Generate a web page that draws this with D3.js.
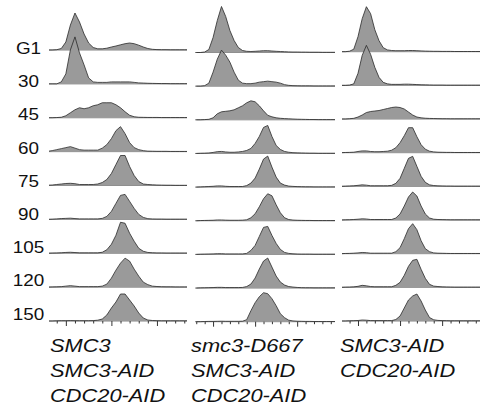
<!DOCTYPE html>
<html>
<head>
<meta charset="utf-8">
<script src="https://cdn.jsdelivr.net/npm/d3@7"></script>
<style>
    body { margin: 0; background: #fff; }
    text { font-family: 'Liberation Sans', Arial, sans-serif; fill: #111; }
</style>
</head>
<body>
<div class="panels"></div>
<script>
var width = 482
var height = 411

// time after release (min)
var timePoints = ['G1', '30', '45', '60', '75', '90', '105', '120', '150']

// DNA content bins (1C units)
var dnaContent = [0.6, 0.7, 0.8, 0.9, 1.0, 1.1, 1.2, 1.3, 1.4, 1.5, 1.6, 1.7, 1.8, 1.9, 2.0, 2.1, 2.2,
    2.3, 2.4, 2.5, 2.6, 2.7, 2.8, 2.9, 3.0, 3.1, 3.2, 3.3, 3.4, 3.5, 3.6, 3.7, 3.8, 3.9]

var majorTicks = [1, 2, 3]
var minorTicks = [0.6, 0.8, 1.2, 1.4, 1.6, 1.8, 2.2, 2.4, 2.6, 2.8, 3.2, 3.4, 3.6, 3.8]

var smc3Labels = ['SMC3', 'SMC3-AID', 'CDC20-AID']
var d667Labels = ['smc3-D667', 'SMC3-AID', 'CDC20-AID']
var aidLabels = ['SMC3-AID', 'CDC20-AID']

// cell counts per bin, one row per time point
var smc3Counts = [
    [0, 0, 0.3, 1.5, 8, 25, 37, 28, 16, 7, 2.5, 1.2, 1.2, 1.8, 3, 4, 5.2, 6.3, 7, 6.3, 4.8, 3, 1.5, 0.7, 0.4, 0.3, 0.3, 0.2, 0.2, 0.2, 0.2, 0.2, 0.2, 0.2],
    [0, 0, 0, 2, 10, 34, 47, 31, 19, 6, 2, 1.5, 1.5, 1.5, 2, 2, 2, 2, 2, 1.5, 1, 0.8, 0.6, 0.5, 0.4, 0.3, 0.3, 0.2, 0.2, 0.2, 0.2, 0.2, 0.2, 0.2],
    [0, 0, 0.2, 0.5, 2, 5, 8, 10, 9, 10, 12, 13, 15, 15, 15, 13, 10, 6, 2.5, 1, 0.5, 0.4, 0.3, 0.3, 0.3, 0.2, 0.2, 0.2, 0.2, 0.2, 0.2, 0.2, 0.2, 0.2],
    [0.3, 1, 2, 3, 4, 5, 3.5, 2, 1.5, 1.5, 1.5, 1.5, 3.5, 7, 13, 21, 25, 18, 9, 4, 2, 1, 0.5, 0.4, 0.3, 0.3, 0.3, 0.2, 0.2, 0.2, 0.2, 0.2, 0.2, 0.2],
    [0.3, 0.5, 1, 1.5, 2, 2.2, 1.8, 1, 1, 1, 1, 1.5, 3, 6, 12, 21, 30, 30, 19, 10, 4, 1.5, 1, 0.7, 0.5, 0.4, 0.3, 0.3, 0.2, 0.2, 0.2, 0.2, 0.2, 0.2],
    [0, 0.2, 0.5, 0.8, 1, 1.2, 0.8, 0.5, 0.5, 0.5, 0.5, 0.5, 1, 3, 8, 16, 24, 25, 18, 11, 5, 2, 0.7, 0.4, 0.3, 0.3, 0.2, 0.2, 0.2, 0.2, 0.2, 0.2, 0.2, 0.2],
    [0, 0.2, 0.3, 0.5, 0.8, 1, 0.7, 0.4, 0.4, 0.4, 0.4, 0.4, 1, 3.5, 9, 18, 31, 30, 20, 12, 5, 2, 0.8, 0.5, 0.3, 0.3, 0.2, 0.2, 0.2, 0.2, 0.2, 0.2, 0.2, 0.2],
    [0, 0.2, 0.3, 0.5, 1, 1.5, 1, 0.5, 0.5, 0.5, 0.5, 0.5, 1, 3, 9, 17, 24, 29, 26, 18, 11, 5, 2.5, 1, 0.6, 0.4, 0.3, 0.3, 0.2, 0.2, 0.2, 0.2, 0.2, 0.2],
    [0, 0, 0.2, 0.3, 0.3, 0.4, 0.3, 0.3, 0.3, 0.3, 0.4, 0.8, 2, 6, 13, 19, 27, 27, 21, 15, 8, 3, 1, 0.5, 0.3, 0.2, 0.2, 0.2, 0.2, 0.2, 0.2, 0.2, 0.2, 0.2]
]

var d667Counts = [
    [0, 0, 0.5, 3, 15, 32, 46, 36, 22, 12, 5, 2, 1.2, 1, 1.2, 1.5, 1.8, 1.8, 1.5, 1.2, 1, 0.8, 0.6, 0.5, 0.5, 0.4, 0.4, 0.3, 0.3, 0.3, 0.2, 0.2, 0.2, 0.2],
    [0, 0, 0.5, 3, 14, 27, 36, 31, 24, 14, 6, 3, 2.5, 2.5, 3, 4, 4.5, 5, 4.5, 4, 3, 1.5, 0.8, 0.5, 0.4, 0.3, 0.3, 0.3, 0.2, 0.2, 0.2, 0.2, 0.2, 0.2],
    [0, 0, 0.2, 0.5, 2, 6, 8, 8.5, 9, 10, 12, 14, 17, 19, 18, 14, 9, 4.5, 3, 2, 1.5, 1.2, 1, 0.8, 0.6, 0.5, 0.4, 0.3, 0.3, 0.2, 0.2, 0.2, 0.2, 0.2],
    [0, 0.2, 0.3, 0.5, 1, 1.8, 2, 1.5, 1.2, 1.2, 1.5, 2, 3, 5, 10, 17, 26, 28, 17, 8, 4, 2, 1.2, 0.8, 0.6, 0.5, 0.4, 0.3, 0.3, 0.2, 0.2, 0.2, 0.2, 0.2],
    [0, 0.2, 0.4, 0.6, 0.8, 1.2, 1.2, 0.8, 0.6, 0.6, 0.6, 0.6, 1.5, 4, 9, 18, 28, 31, 20, 10, 4, 2, 1, 0.7, 0.5, 0.4, 0.3, 0.3, 0.2, 0.2, 0.2, 0.2, 0.2, 0.2],
    [0, 0.2, 0.3, 0.4, 0.5, 0.8, 0.8, 0.6, 0.5, 0.5, 0.5, 0.6, 1, 3, 7, 14, 22, 27, 25, 16, 8, 3, 1.2, 0.7, 0.5, 0.4, 0.3, 0.3, 0.2, 0.2, 0.2, 0.2, 0.2, 0.2],
    [0, 0.2, 0.3, 0.4, 0.5, 0.7, 0.7, 0.5, 0.5, 0.5, 0.5, 0.5, 1, 4, 9, 18, 27, 28, 19, 11, 5, 2, 1, 0.6, 0.4, 0.3, 0.3, 0.3, 0.2, 0.2, 0.2, 0.2, 0.2, 0.2],
    [0, 0.2, 0.3, 0.4, 0.5, 0.7, 0.7, 0.5, 0.5, 0.5, 0.5, 0.6, 1.5, 4, 10, 19, 27, 30, 21, 12, 6, 3, 1.5, 1, 0.6, 0.4, 0.3, 0.3, 0.2, 0.2, 0.2, 0.2, 0.2, 0.2],
    [0, 0, 0.2, 0.3, 0.3, 0.4, 0.5, 0.4, 0.4, 0.4, 0.4, 0.5, 2, 11, 19, 25, 29, 28, 23, 16, 8, 4, 1.5, 0.8, 0.5, 0.4, 0.3, 0.3, 0.2, 0.2, 0.2, 0.2, 0.2, 0.2]
]

var aidCounts = [
    [0, 0, 0.5, 2.5, 15, 33, 45, 38, 22, 11, 4, 1.8, 1.2, 1, 1, 1, 1.2, 1.2, 1, 0.8, 0.6, 0.5, 0.4, 0.4, 0.3, 0.3, 0.3, 0.2, 0.2, 0.2, 0.2, 0.2, 0.2, 0.2],
    [0, 0, 0.3, 1.5, 12, 30, 40, 31, 18, 8, 3, 1.5, 1, 1, 1, 1.2, 1.2, 1, 0.8, 0.6, 0.5, 0.4, 0.3, 0.3, 0.3, 0.2, 0.2, 0.2, 0.2, 0.2, 0.2, 0.2, 0.2, 0.2],
    [0, 0, 0.3, 0.7, 2, 4, 6.5, 7.5, 8, 8.5, 9.5, 10.5, 11.5, 12, 11.5, 10, 7, 4, 2, 1.2, 0.8, 0.6, 0.5, 0.4, 0.3, 0.3, 0.2, 0.2, 0.2, 0.2, 0.2, 0.2, 0.2, 0.2],
    [0, 0.2, 0.3, 0.5, 1.2, 1.8, 1.8, 1.2, 1, 1, 1.2, 1.5, 2.5, 5, 10, 17, 25, 25, 16, 8, 3.5, 1.5, 0.8, 0.5, 0.4, 0.3, 0.3, 0.2, 0.2, 0.2, 0.2, 0.2, 0.2, 0.2],
    [0, 0.2, 0.4, 0.6, 1, 1.5, 1.2, 0.6, 0.6, 0.6, 0.6, 0.6, 1, 3, 8, 18, 28, 30, 20, 10, 4, 1.5, 0.8, 0.5, 0.4, 0.3, 0.3, 0.2, 0.2, 0.2, 0.2, 0.2, 0.2, 0.2],
    [0, 0.2, 0.3, 0.5, 0.8, 1.2, 1, 0.5, 0.5, 0.5, 0.5, 0.5, 0.5, 2, 6, 14, 23, 28, 24, 14, 6, 2, 0.8, 0.5, 0.4, 0.3, 0.2, 0.2, 0.2, 0.2, 0.2, 0.2, 0.2, 0.2],
    [0, 0.2, 0.3, 0.5, 0.8, 1.2, 1, 0.5, 0.5, 0.5, 0.5, 0.5, 0.5, 2, 6, 15, 25, 30, 24, 13, 5, 2, 0.8, 0.5, 0.4, 0.3, 0.2, 0.2, 0.2, 0.2, 0.2, 0.2, 0.2, 0.2],
    [0, 0.2, 0.3, 0.5, 1, 2, 1.5, 0.8, 0.6, 0.6, 0.6, 0.6, 0.6, 2, 5, 12, 21, 27, 28, 18, 9, 3, 1.2, 0.8, 0.5, 0.4, 0.3, 0.2, 0.2, 0.2, 0.2, 0.2, 0.2, 0.2],
    [0, 0, 0.2, 0.3, 0.5, 1, 0.8, 0.4, 0.4, 0.4, 0.4, 0.4, 0.4, 1.5, 5, 13, 21, 25, 27, 20, 11, 3.5, 1.2, 0.6, 0.4, 0.3, 0.2, 0.2, 0.2, 0.2, 0.2, 0.2, 0.2, 0.2]
]

// panel layout: pixel extents and the DNA range each one shows
var columns = [
    { counts: smc3Counts, labels: smc3Labels, px: [49, 187], dna: [0.63, 3.66], base: [50, 321], labelX: 50 },
    { counts: d667Counts, labels: d667Labels, px: [195, 335], dna: [0.57, 3.9], base: [52.5, 321.7], labelX: 191 },
    { counts: aidCounts, labels: aidLabels, px: [342, 480], dna: [0.62, 3.9], base: [51.7, 321], labelX: 340 }
]

var svg = d3.select('.panels').append('svg')
    .attr('width', width)
    .attr('height', height);

// same count scale for every histogram
var h = d3.scaleLinear().domain([0, 50]).range([0, 50])

columns.forEach(function (col, ci) {
    var x = d3.scaleLinear().domain(col.dna).range(col.px)
    var y = d3.scalePoint().domain(timePoints).range(col.base)

    svg.append('clipPath')
        .attr('id', 'clip' + ci)
        .append('rect')
        .attr('x', col.px[0])
        .attr('y', 0)
        .attr('width', col.px[1] - col.px[0])
        .attr('height', height)

    var g = svg.append('g').attr('clip-path', 'url(#clip' + ci + ')')

    timePoints.forEach(function (t, ri) {
        var base = y(t)
        var area = d3.area()
            .x(function (d, i) { return x(dnaContent[i]) })
            .y0(base)
            .y1(function (d) { return base - h(d) })
        var line = d3.line()
            .x(function (d, i) { return x(dnaContent[i]) })
            .y(function (d) { return base - h(d) })

        g.append('line')
            .attr('x1', col.px[0]).attr('x2', col.px[1])
            .attr('y1', base).attr('y2', base)
            .attr('stroke', '#666')
            .attr('stroke-width', 0.8)

        g.append('path')
            .datum(col.counts[ri])
            .attr('d', area)
            .attr('fill', '#9a9a9a')

        g.append('path')
            .datum(col.counts[ri])
            .attr('d', line)
            .attr('fill', 'none')
            .attr('stroke', '#2a2a2a')
            .attr('stroke-width', 0.8)
            .attr('stroke-linejoin', 'round')
    })

    // DNA content axis under the last row
    var inRange = function (v) { return v >= col.dna[0] && v <= col.dna[1] }
    var major = svg.append('g')
        .attr('transform', 'translate(0,' + col.base[1] + ')')
        .call(d3.axisBottom(x).tickValues(majorTicks).tickSize(5).tickFormat(''))
    var minor = svg.append('g')
        .attr('transform', 'translate(0,' + col.base[1] + ')')
        .call(d3.axisBottom(x).tickValues(minorTicks.filter(inRange)).tickSize(2.5).tickFormat(''))
    major.select('.domain').remove()
    minor.select('.domain').remove()
    svg.selectAll('.tick line').attr('stroke', '#333').attr('stroke-width', 1)

    // strain genotype
    col.labels.forEach(function (s, li) {
        svg.append('text')
            .attr('transform', 'translate(' + col.labelX + ',' + (351.7 + li * 25) + ') scale(1.18,1)')
            .attr('font-size', 18.5)
            .attr('font-style', 'italic')
            .text(s)
    })
})

// time point labels
var labelY = d3.scalePoint().domain(timePoints).range([54, 319.5])
svg.selectAll('.rowlabel')
    .data(timePoints)
    .enter()
    .append('text')
    .attr('class', 'rowlabel')
    .attr('transform', function (d) { return 'translate(28.5,' + labelY(d) + ') scale(1.18,1)' })
    .attr('text-anchor', 'middle')
    .attr('font-size', 16)
    .text(function (d) { return d })
</script>
</body>
</html>
